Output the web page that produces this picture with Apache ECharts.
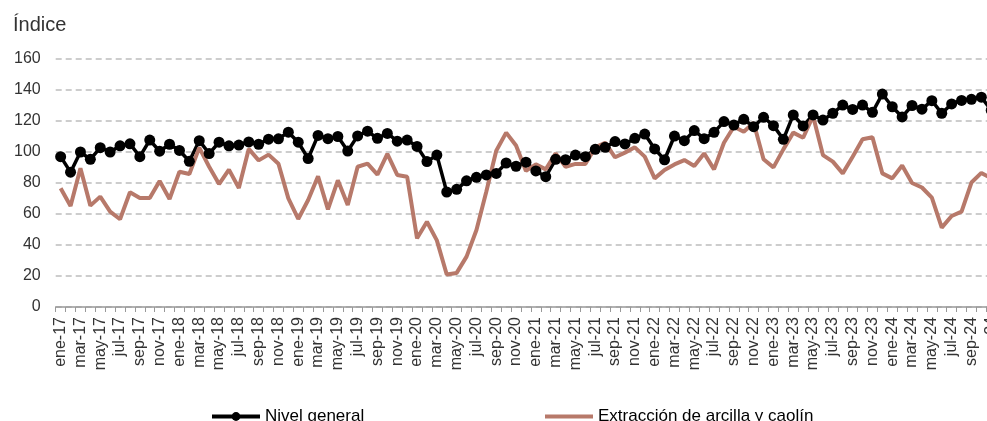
<!DOCTYPE html>
<html>
<head>
<meta charset="utf-8">
<script src="https://cdn.jsdelivr.net/npm/echarts@6/dist/echarts.min.js"></script>
<style>
	html, body { margin: 0; padding: 0; background: #fff; }
	#charts { width: 987px; height: 421px; }
</style>
</head>
<body>
<div id="charts"></div>
<script>
const months = ['ene', 'feb', 'mar', 'abr', 'may', 'jun', 'jul', 'ago', 'sep', 'oct', 'nov', 'dic'];
const years = ['17', '18', '19', '20', '21', '22', '23', '24'];
const lastMonth = 'nov-24';

const nivelGeneral = [
	97, 87, 100, 95.3, 102.8, 100, 104, 105.3, 97, 107.7, 100.5, 105,
	101, 94, 107.3, 99, 106.3, 104, 104.5, 106.5, 105, 108.3, 108.5, 112.8,
	106.3, 95.8, 110.7, 108.6, 110, 100.6, 110.4, 113.4, 108.8, 112, 107, 107.7,
	103.6, 93.8, 98, 74.2, 75.9, 81.4, 83.7, 85.2, 86.2, 92.9, 90.8, 93.4,
	87.8, 84.1, 95.3, 95, 98, 97, 101.7, 103, 106.7, 105.2, 108.8, 111.6,
	102, 95, 110.3, 107.3, 113.8, 108.6, 112.7, 119.6, 117.4, 121.1, 116.3, 122.4,
	117, 108.2, 123.9, 116.8, 123.9, 120.6, 125, 130.3, 127.5, 130.3, 125.6, 137.4,
	129.2, 122.6, 130, 127.6, 133.1, 125, 131, 133.3, 134, 135.4, 127
];

const arcillaCaolin = [
	76.6, 65.2, 89.5, 65.4, 71.2, 61.5, 56.6, 74, 70.3, 70.3, 81.3, 69.7,
	87.3, 85.8, 102.8, 90.5, 79.3, 88.6, 76.8, 102, 94.6, 98.3, 92.4, 70.1,
	56.8, 69, 84.3, 63, 81.7, 65.8, 90.5, 92.5, 85.4, 98.8, 85.2, 84,
	44.3, 55, 43, 21, 22, 32.5, 49.7, 74.5, 100.8, 112.5, 104.2, 87.8,
	92, 88.8, 99.1, 90.5, 92.3, 92.3, 103, 106, 96.6, 99.6, 103, 97,
	83, 88.4, 92, 94.8, 91, 99.1, 88.8, 106, 116.3, 113.1, 118.9, 95.3,
	90.1, 101.7, 112.5, 109.2, 123.2, 98, 93.8, 86.2, 97, 108.2, 109.5, 86.2,
	83, 91.3, 80, 77.1, 70.5, 51.2, 58.7, 61.5, 80.3, 86.5, 83
];

const yTicks = [0, 20, 40, 60, 80, 100, 120, 140, 160];

// categories ene-17 ... nov-24
const categories = [];
years.forEach((y) => {
	months.forEach((m) => {
		if (categories.length && categories[categories.length - 1] === lastMonth) {
			return;
		}
		categories.push(m + '-' + y);
	});
});

const FONT = 'Liberation Sans, Arial, sans-serif';
const BROWN = '#b7796a';

var myChart = echarts.init(document.getElementById('charts'));

let option = {
	animation: false,
	backgroundColor: '#fff',
	textStyle: { fontFamily: FONT },
	title: {
		text: 'Índice',
		left: 8,
		top: 10,
		textStyle: {
			fontFamily: FONT,
			fontSize: 20,
			fontWeight: 'normal',
			color: '#333'
		}
	},
	legend: [
		{
			data: ['Nivel general'],
			left: 210,
			top: 408,
			padding: 0,
			itemWidth: 48,
			itemHeight: 11,
			itemGap: 5,
			lineStyle: { width: 4 },
			textStyle: { fontFamily: FONT, fontSize: 17, color: '#000' }
		},
		{
			data: [{ name: 'Extracción de arcilla y caolín', icon: 'rect' }],
			left: 545,
			top: 408,
			padding: 0,
			itemWidth: 48,
			itemHeight: 4,
			itemGap: 5,
			textStyle: { fontFamily: FONT, fontSize: 17, color: '#000' }
		}
	],
	grid: {
		left: 55.7,
		top: 59,
		width: 940.5,
		height: 248,
		outerBoundsMode: 'none'
	},
	xAxis: {
		type: 'category',
		data: categories,
		boundaryGap: true,
		axisLine: { lineStyle: { color: '#999', width: 1.5 } },
		axisTick: {
			show: true,
			interval: 0,
			length: 5,
			lineStyle: { color: '#999', width: 1 }
		},
		axisLabel: {
			interval: 1,
			rotate: 90,
			margin: 10,
			fontFamily: FONT,
			fontSize: 16,
			color: '#333'
		},
		splitLine: { show: false }
	},
	yAxis: {
		type: 'value',
		min: yTicks[0],
		max: yTicks[yTicks.length - 1],
		interval: 20,
		axisLine: { show: false },
		axisTick: { show: false },
		axisLabel: {
			margin: 15,
			fontFamily: FONT,
			fontSize: 16,
			color: '#333'
		},
		splitLine: {
			show: true,
			lineStyle: { color: '#bdbdbd', width: 1.5, type: [6, 4] }
		}
	},
	series: [
		{
			type: 'line',
			name: 'Nivel general',
			data: nivelGeneral,
			color: '#000',
			symbol: 'circle',
			symbolSize: 11,
			showSymbol: true,
			showAllSymbol: true,
			itemStyle: { color: '#000' },
			lineStyle: { color: '#000', width: 3.5 }
		},
		{
			type: 'line',
			name: 'Extracción de arcilla y caolín',
			data: arcillaCaolin,
			color: BROWN,
			symbol: 'none',
			itemStyle: { color: BROWN },
			lineStyle: { color: BROWN, width: 4 }
		}
	]
};

myChart.setOption(option);
</script>
</body>
</html>
